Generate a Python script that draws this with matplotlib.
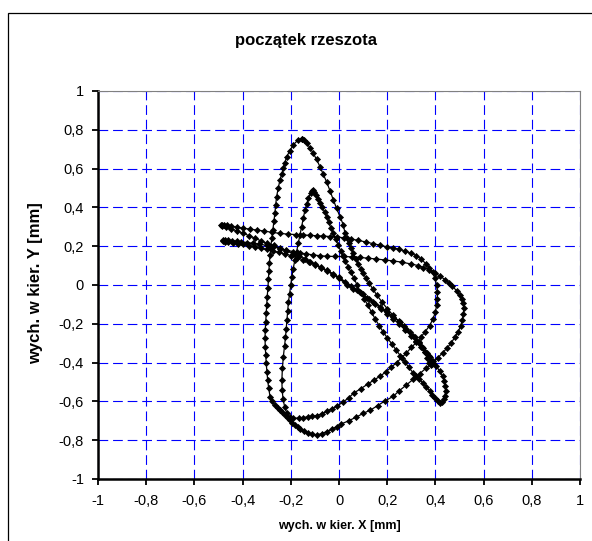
import numpy as np
import matplotlib
matplotlib.use("Agg")
import matplotlib.pyplot as plt
from matplotlib.patches import Rectangle
from matplotlib.ticker import FuncFormatter, MultipleLocator

plt.rcParams['font.family'] = ['Liberation Sans', 'DejaVu Sans']
plt.rcParams['lines.scale_dashes'] = False

# punkty trajektorii (x, y) w mm, po kolei wzdluz toru
# lewe ramie duzego szczytu
seg_lewe_zew = [(-0.155, 0.755), (-0.172, 0.745), (-0.19, 0.722), (-0.205, 0.69), (-0.217, 0.661),
                (-0.225, 0.63), (-0.231, 0.601), (-0.238, 0.57), (-0.245, 0.541), (-0.252, 0.50),
                (-0.259, 0.455), (-0.263, 0.41), (-0.266, 0.37), (-0.27, 0.33), (-0.275, 0.284),
                (-0.279, 0.24), (-0.283, 0.197), (-0.286, 0.155), (-0.289, 0.112), (-0.291, 0.07),
                (-0.293, 0.03), (-0.295, -0.017), (-0.298, -0.06), (-0.30, -0.103), (-0.302, -0.146),
                (-0.304, -0.189), (-0.306, -0.232), (-0.307, -0.275), (-0.306, -0.318), (-0.304, -0.361),
                (-0.302, -0.404), (-0.299, -0.447), (-0.296, -0.49), (-0.292, -0.53), (-0.286, -0.576),
                (-0.276, -0.60), (-0.266, -0.619), (-0.255, -0.633), (-0.245, -0.644), (-0.235, -0.657),
                (-0.224, -0.67), (-0.213, -0.683), (-0.203, -0.696), (-0.193, -0.709), (-0.183, -0.722),
                (-0.172, -0.734), (-0.162, -0.744), (-0.145, -0.755), (-0.127, -0.764), (-0.11, -0.77),
                (-0.092, -0.773), (-0.072, -0.766), (-0.051, -0.756), (-0.03, -0.744), (-0.01, -0.73)]

# dolny luk do zewnetrznej petli po prawej
seg_dol_zew = [(0.01, -0.716), (0.04, -0.70), (0.07, -0.682), (0.10, -0.662), (0.13, -0.645),
               (0.16, -0.622), (0.19, -0.598), (0.225, -0.574), (0.25, -0.545), (0.28, -0.515),
               (0.307, -0.487), (0.335, -0.457), (0.36, -0.43), (0.389, -0.40), (0.41, -0.375),
               (0.43, -0.35), (0.448, -0.325), (0.465, -0.30), (0.48, -0.27), (0.495, -0.24),
               (0.505, -0.21), (0.512, -0.18), (0.516, -0.15), (0.518, -0.12), (0.516, -0.095),
               (0.51, -0.07), (0.50, -0.05), (0.488, -0.03), (0.47, -0.005), (0.455, 0.012),
               (0.44, 0.028), (0.42, 0.045), (0.398, 0.062), (0.375, 0.077), (0.35, 0.09), (0.329, 0.10)]

# linia do dolnego lewego wierzcholka
seg_plaska_dol = [(0.30, 0.108), (0.26, 0.118), (0.225, 0.124), (0.191, 0.129), (0.155, 0.134),
                  (0.122, 0.138), (0.088, 0.142), (0.053, 0.145), (0.02, 0.147), (-0.015, 0.147),
                  (-0.05, 0.148), (-0.08, 0.151), (-0.107, 0.155), (-0.135, 0.16), (-0.162, 0.165),
                  (-0.19, 0.172), (-0.22, 0.18), (-0.245, 0.188), (-0.272, 0.197), (-0.30, 0.204),
                  (-0.33, 0.211), (-0.356, 0.215), (-0.38, 0.219), (-0.405, 0.222), (-0.425, 0.225),
                  (-0.445, 0.228), (-0.46, 0.231), (-0.472, 0.233), (-0.48, 0.232), (-0.482, 0.228)]

# ukosna linia w dol do petli w prawym dolnym rogu
seg_ukos_dol = [(-0.475, 0.224), (-0.46, 0.22), (-0.44, 0.215), (-0.42, 0.212), (-0.4, 0.21),
                (-0.375, 0.203), (-0.35, 0.196), (-0.325, 0.19), (-0.3, 0.183), (-0.275, 0.175),
                (-0.25, 0.168), (-0.225, 0.16), (-0.2, 0.152), (-0.175, 0.141), (-0.15, 0.13),
                (-0.125, 0.118), (-0.1, 0.105), (-0.075, 0.09), (-0.05, 0.076), (-0.025, 0.058),
                (0.0, 0.04), (0.025, 0.018), (0.05, -0.003), (0.075, -0.025), (0.1, -0.048),
                (0.125, -0.072), (0.15, -0.097), (0.175, -0.122), (0.2, -0.148), (0.225, -0.175),
                (0.25, -0.202), (0.275, -0.232), (0.3, -0.262), (0.32, -0.29), (0.34, -0.318),
                (0.358, -0.343), (0.375, -0.368), (0.39, -0.392), (0.403, -0.417), (0.418, -0.445),
                (0.43, -0.47), (0.437, -0.495), (0.441, -0.52), (0.442, -0.545), (0.44, -0.57),
                (0.435, -0.59), (0.428, -0.603), (0.42, -0.609)]

# prawe ramie malego szczytu
seg_prawe_wew = [(0.41, -0.60), (0.398, -0.585), (0.387, -0.565), (0.376, -0.545), (0.362, -0.525),
                 (0.348, -0.505), (0.334, -0.487), (0.32, -0.47), (0.307, -0.452), (0.29, -0.425),
                 (0.272, -0.395), (0.255, -0.365), (0.237, -0.335), (0.22, -0.305), (0.2, -0.272),
                 (0.184, -0.243), (0.167, -0.21), (0.15, -0.175), (0.135, -0.14), (0.12, -0.105),
                 (0.104, -0.07), (0.089, -0.035), (0.075, 0.0), (0.062, 0.035), (0.05, 0.065),
                 (0.038, 0.095), (0.026, 0.125), (0.016, 0.15), (0.007, 0.175), (-0.003, 0.205),
                 (-0.013, 0.235), (-0.024, 0.266), (-0.034, 0.295), (-0.043, 0.325), (-0.051, 0.352),
                 (-0.06, 0.378), (-0.07, 0.40), (-0.079, 0.421), (-0.088, 0.445), (-0.096, 0.465),
                 (-0.103, 0.48)]

# maly szczyt i jego lewe ramie
seg_lewe_wew = [(-0.107, 0.488), (-0.112, 0.485), (-0.118, 0.472), (-0.127, 0.447), (-0.134, 0.417),
                (-0.141, 0.387), (-0.148, 0.345), (-0.155, 0.30), (-0.162, 0.258), (-0.169, 0.215),
                (-0.176, 0.172), (-0.183, 0.129), (-0.19, 0.085), (-0.196, 0.04), (-0.2, 0.0),
                (-0.205, -0.045), (-0.21, -0.09), (-0.213, -0.135), (-0.216, -0.18), (-0.219, -0.225),
                (-0.222, -0.27), (-0.226, -0.315), (-0.231, -0.37), (-0.235, -0.43), (-0.237, -0.49),
                (-0.236, -0.54), (-0.232, -0.59), (-0.225, -0.63), (-0.216, -0.662), (-0.205, -0.68),
                (-0.19, -0.687), (-0.168, -0.686), (-0.148, -0.683), (-0.128, -0.68), (-0.11, -0.677),
                (-0.092, -0.673), (-0.072, -0.664), (-0.051, -0.652)]

# gorny luk dolny do wewnetrznej petli po prawej
seg_dol_wew = [(-0.03, -0.638), (-0.01, -0.625), (0.015, -0.605), (0.04, -0.582), (0.061, -0.557),
               (0.09, -0.535), (0.12, -0.51), (0.145, -0.49), (0.171, -0.47), (0.195, -0.447),
               (0.217, -0.424), (0.239, -0.40), (0.26, -0.375), (0.28, -0.35), (0.3, -0.322),
               (0.321, -0.296), (0.34, -0.268), (0.358, -0.24), (0.376, -0.209), (0.39, -0.175),
               (0.4, -0.14), (0.405, -0.104), (0.408, -0.07), (0.408, -0.035), (0.405, 0.0),
               (0.398, 0.035), (0.388, 0.065), (0.375, 0.09), (0.36, 0.11), (0.34, 0.135),
               (0.32, 0.152), (0.30, 0.163), (0.275, 0.175), (0.25, 0.184), (0.225, 0.191), (0.198, 0.197)]

# linia do gornego lewego wierzcholka
seg_plaska_gora = [(0.17, 0.205), (0.14, 0.213), (0.11, 0.222), (0.08, 0.23), (0.05, 0.237),
                   (0.02, 0.243), (-0.01, 0.248), (-0.037, 0.25), (-0.065, 0.252), (-0.09, 0.254),
                   (-0.12, 0.256), (-0.15, 0.258), (-0.18, 0.26), (-0.21, 0.262), (-0.245, 0.266),
                   (-0.28, 0.272), (-0.31, 0.278), (-0.34, 0.283), (-0.37, 0.288), (-0.4, 0.293),
                   (-0.425, 0.298), (-0.448, 0.303), (-0.465, 0.307), (-0.478, 0.31), (-0.486, 0.31),
                   (-0.49, 0.307)]

# ukosna linia w dol do malej petli
seg_ukos_gora = [(-0.484, 0.303), (-0.47, 0.298), (-0.45, 0.29), (-0.425, 0.279), (-0.4, 0.268),
                 (-0.375, 0.255), (-0.35, 0.242), (-0.325, 0.228), (-0.3, 0.215), (-0.27, 0.204),
                 (-0.245, 0.19), (-0.22, 0.176), (-0.19, 0.162), (-0.165, 0.148), (-0.14, 0.134),
                 (-0.12, 0.12), (-0.1, 0.107), (-0.075, 0.092), (-0.05, 0.072), (-0.025, 0.054),
                 (0.0, 0.034), (0.034, 0.0), (0.06, -0.02), (0.09, -0.043), (0.115, -0.065),
                 (0.143, -0.087), (0.17, -0.112), (0.2, -0.14), (0.225, -0.165), (0.253, -0.191),
                 (0.28, -0.225), (0.307, -0.261), (0.33, -0.295), (0.35, -0.325), (0.366, -0.35),
                 (0.376, -0.37), (0.383, -0.39), (0.385, -0.405), (0.38, -0.41)]

# powrot prawym ramieniem duzego szczytu
seg_prawe_zew = [(0.372, -0.40), (0.365, -0.375), (0.355, -0.345), (0.346, -0.32), (0.333, -0.297),
                 (0.315, -0.27), (0.294, -0.243), (0.27, -0.213), (0.248, -0.185), (0.225, -0.157),
                 (0.2, -0.122), (0.178, -0.087), (0.157, -0.052), (0.14, -0.02), (0.125, 0.01),
                 (0.112, 0.035), (0.101, 0.06), (0.09, 0.085), (0.08, 0.11), (0.07, 0.135),
                 (0.059, 0.163), (0.05, 0.19), (0.041, 0.215), (0.032, 0.24), (0.025, 0.266),
                 (0.018, 0.31), (0.004, 0.352), (-0.01, 0.395), (-0.024, 0.44), (-0.037, 0.485),
                 (-0.051, 0.53), (-0.065, 0.57), (-0.079, 0.61), (-0.093, 0.647), (-0.107, 0.679),
                 (-0.12, 0.707), (-0.133, 0.73), (-0.145, 0.748), (-0.155, 0.755)]

segmenty = [seg_lewe_zew, seg_dol_zew, seg_plaska_dol, seg_ukos_dol, seg_prawe_wew,
            seg_lewe_wew, seg_dol_wew, seg_plaska_gora, seg_ukos_gora, seg_prawe_zew]
tor = np.array([p for s in segmenty for p in s])

fig = plt.figure(figsize=(5.92, 5.41), dpi=100)
ax = fig.add_axes([98 / 592, 1 - 479 / 541, 482 / 592, 388 / 541])

ax.plot(tor[:, 0], tor[:, 1], color='black', lw=0.9, marker='D', markersize=3.1,
        markerfacecolor='black', markeredgecolor='black', markeredgewidth=0.5)

ax.set_xlim(-1, 1)
ax.set_ylim(-1, 1)
ax.xaxis.set_major_locator(MultipleLocator(0.2))
ax.yaxis.set_major_locator(MultipleLocator(0.2))
fmt = FuncFormatter(lambda v, pos: ("%g" % round(v, 1)).replace('.', ',') if abs(v) > 1e-9 else "0")
ax.xaxis.set_major_formatter(fmt)
ax.yaxis.set_major_formatter(fmt)

ax.grid(True, color='#0000FF', lw=0.8, linestyle=(0, (7, 3.5)))
ax.set_axisbelow(True)

for s in ['top', 'right']:
    ax.spines[s].set_color('#808080')
    ax.spines[s].set_linewidth(0.8)
for s in ['left', 'bottom']:
    ax.spines[s].set_color('black')
    ax.spines[s].set_linewidth(1.8)

ax.tick_params(direction='out', length=4, width=1.3, color='black', labelsize=10.5)
ax.tick_params(axis='y', pad=6)
ax.tick_params(axis='x', pad=7)

fig.text(306 / 592, 1 - 41 / 541, 'początek rzeszota', ha='center', va='center',
         fontsize=12, fontweight='bold')
fig.text(339 / 592, 1 - 526 / 541, 'wych. w kier. X [mm]', ha='center', va='center',
         fontsize=9, fontweight='bold')
fig.text(36 / 592, 1 - 283 / 541, 'wych. w kier. Y [mm]', ha='center', va='center',
         rotation=90, fontsize=12, fontweight='bold')

fig.add_artist(Rectangle((8 / 592, -0.05), 1.2, 1 - 13 / 541 + 0.05, transform=fig.transFigure,
                         fill=False, edgecolor='black', lw=0.9, clip_on=False))

fig.savefig('out.png', dpi=100)
